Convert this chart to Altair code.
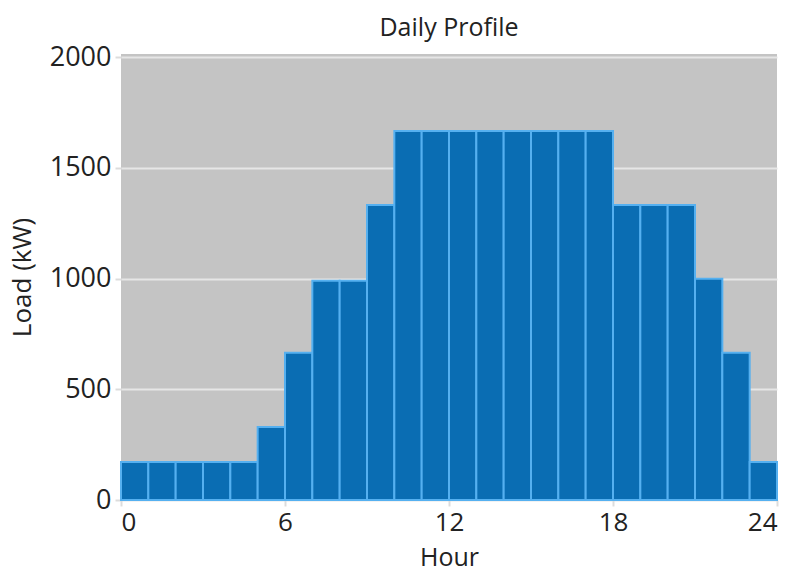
import altair as alt
import pandas as pd

hours = list(range(24))
load_kw = [172, 172, 172, 172, 172, 330, 665, 990, 990, 1333,
           1667, 1667, 1667, 1667, 1667, 1667, 1667, 1667,
           1333, 1333, 1333, 1000, 665, 172]
x_ticks = [0, 6, 12, 18, 24]
y_ticks = [0, 500, 1000, 1500, 2000]

df = pd.DataFrame({
    "hour": hours,
    "hour_end": [h + 1 for h in hours],
    "load": load_kw,
    "base": [0] * len(hours),
})

FONT = "Open Sans"
TXT = "#222222"

chart = alt.Chart(df).mark_bar(
    color="#0a6db3", stroke="#55b0f0", strokeWidth=2
).encode(
    x=alt.X("hour:Q", scale=alt.Scale(domain=[0, 24], nice=False, zero=False),
            axis=alt.Axis(values=x_ticks, title="Hour", grid=False, domain=False,
                          tickColor="#dcdcdc", tickSize=6, tickWidth=2, labelFontSize=26,
                          titleFontSize=25, titleFontWeight="normal", labelPadding=3,
                          titlePadding=10, labelColor=TXT, titleColor=TXT,
                          labelFont=FONT, titleFont=FONT, format="d")),
    x2="hour_end:Q",
    y=alt.Y("load:Q", scale=alt.Scale(domain=[0, 2015], nice=False),
            axis=alt.Axis(values=y_ticks, title="Load (kW)", grid=True, gridColor="#e6e6e6",
                          gridWidth=2, domain=False, tickColor="#dcdcdc", tickSize=6,
                          tickWidth=2, labelFontSize=27, titleFontSize=26,
                          titleFontWeight="normal", labelPadding=4, titlePadding=14,
                          labelColor=TXT, titleColor=TXT, labelFont=FONT,
                          titleFont=FONT, format="d")),
    y2="base:Q",
).properties(
    width=656, height=446,
    title=alt.TitleParams("Daily Profile", fontSize=25, fontWeight="normal", font=FONT,
                          color=TXT, offset=2),
    autosize=alt.AutoSizeParams(type="none"),
    padding={"left": 113, "top": 46, "right": 13, "bottom": 69},
).configure_view(fill="#c4c4c4", stroke=None)

chart.save("out.html", embed_options={"renderer": "svg", "actions": False})
